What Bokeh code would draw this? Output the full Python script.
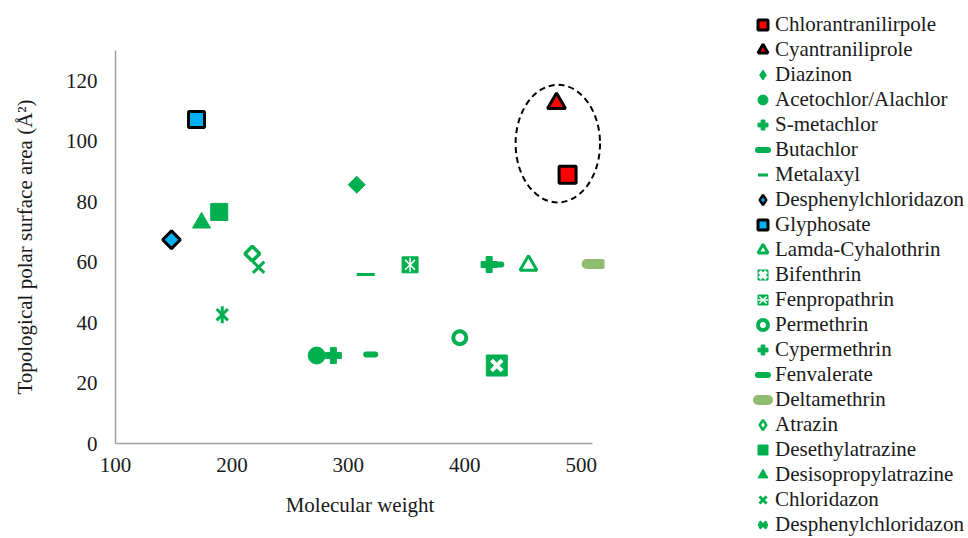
import math
from bokeh.plotting import figure
from bokeh.models import Legend, LegendItem, FixedTicker
from bokeh.embed import file_html
from bokeh.resources import INLINE

# ---------------- data ----------------
names = ["Chlorantranilirpole", "Cyantraniliprole", "Diazinon", "Acetochlor/Alachlor",
         "S-metachlor", "Butachlor", "Metalaxyl", "Desphenylchloridazon", "Glyphosate",
         "Lamda-Cyhalothrin", "Bifenthrin", "Fenpropathrin", "Permethrin", "Cypermethrin",
         "Fenvalerate", "Deltamethrin", "Atrazin", "Desethylatrazine", "Desisopropylatrazine",
         "Chloridazon", "Desphenylchloridazon"]
mw = [488.3, 478.8, 307.2, 272.8, 287.1, 319.2, 314.9, 148.1, 169.6,
      454.7, 427.5, 353.0, 395.7, 420.9, 427.5, 511.1, 217.5, 189.1, 173.9,
      222.9, 191.7]
tpsa = [88.9, 112.5, 85.6, 29.1, 29.1, 29.4, 55.9, 67.4, 107.2,
        58.9, 25.8, 59.1, 35.0, 59.2, 59.2, 59.4, 62.8, 76.6, 73.0,
        58.3, 42.6]
x_ticks = [100, 200, 300, 400, 500]
y_ticks = [0, 20, 40, 60, 80, 100, 120]
ellipse_x = [479.9]
ellipse_y = [99.2]
ellipse_w = [72.5]
ellipse_h = [38.9]

# ---------------- styles ----------------
GREEN = "#00b050"
BLUE = "#00b0f0"
RED = "#ff0000"
OLIVE = "#8fbc6f"
D = math.pi / 4
V = math.pi / 2
FONT = "Liberation Serif"
TEXT = "#1a1a1a"

def L(marker, size, fill, line, lw, angle=0.0, cap="butt"):
    return dict(marker=marker, size=size, fill_color=fill, line_color=line,
                line_width=lw, angle=angle, line_cap=cap)

styles = [
    [L("square", 17, RED, "black", 3)],
    [L("triangle", 18, RED, "black", 3)],
    [L("square", 12, GREEN, GREEN, 1, D)],
    [L("circle", 17, GREEN, GREEN, 1)],
    [L("plus", 16, GREEN, GREEN, 1)],
    [L("dash", 9, None, GREEN, 6, cap="round")],
    [L("dash", 18, None, GREEN, 3)],
    [L("square", 12.5, BLUE, "black", 3, D)],
    [L("square", 16, BLUE, "black", 3)],
    [L("triangle", 17, "white", GREEN, 3)],
    [L("square", 21, GREEN, GREEN, 1), L("x", 15, None, "white", 4)],
    [L("square", 16, GREEN, GREEN, 1), L("x", 14, None, "white", 1.5), L("dash", 14, None, "white", 1.5, V)],
    [L("circle", 13, "white", GREEN, 4)],
    [L("plus", 16, GREEN, GREEN, 1)],
    [L("dash", 9, None, GREEN, 6, cap="round")],
    [L("dash", 15, None, OLIVE, 10, cap="round")],
    [L("square", 10.5, "white", GREEN, 3.5, D)],
    [L("square", 17, GREEN, GREEN, 1)],
    [L("triangle", 18, GREEN, GREEN, 1)],
    [L("x", 16, None, GREEN, 3)],
    [L("x", 16, None, GREEN, 3), L("dash", 17, None, GREEN, 3, V)],
]
# legend glyphs ignore the marker angle, so the rotated squares get a diamond
# swatch that sits hidden underneath the plotted mark
diamond_swatch = {
    2: L("diamond", 6, GREEN, GREEN, 1),
    7: L("diamond", 6, BLUE, "black", 2.5),
    16: L("diamond", 6, "white", GREEN, 2.5),
}

# ---------------- main plot ----------------
p = figure(frame_width=489, frame_height=393, x_range=(100, 520), y_range=(0, 130),
           output_backend="svg", toolbar_location=None,
           min_border_left=115, min_border_top=50, min_border_right=364, min_border_bottom=95)
p.grid.visible = False
p.outline_line_color = None
p.background_fill_color = "white"
p.border_fill_color = "white"

p.ellipse(x=ellipse_x, y=ellipse_y, width=ellipse_w, height=ellipse_h,
          fill_color=None, line_color="black", line_width=2, line_dash="6 4")

items = []
for i, name in enumerate(names):
    rs = []
    sw = None
    if i in diamond_swatch:
        sw = p.scatter(x=[mw[i]], y=[tpsa[i]], **diamond_swatch[i])
    for st in styles[i]:
        rs.append(p.scatter(x=[mw[i]], y=[tpsa[i]], **st))
    if sw is not None:
        rs = [sw]
    items.append(LegendItem(label=name, renderers=rs))

for ax in (p.xaxis[0], p.yaxis[0]):
    ax.major_tick_line_color = None
    ax.minor_tick_line_color = None
    ax.axis_line_color = "#a0a0a0"
    ax.axis_line_width = 1.5
    ax.major_label_text_font = FONT
    ax.major_label_text_font_size = "21px"
    ax.major_label_text_color = TEXT
    ax.axis_label_text_font = FONT
    ax.axis_label_text_font_size = "21px"
    ax.axis_label_text_font_style = "normal"
    ax.axis_label_text_color = TEXT

p.xaxis.ticker = FixedTicker(ticks=x_ticks)
p.xaxis.bounds = (100, 510)
p.xaxis.axis_label = "Molecular weight"
p.xaxis.major_label_standoff = 8
p.xaxis.axis_label_standoff = 18

p.yaxis.ticker = FixedTicker(ticks=y_ticks)
p.yaxis.axis_label = "Topological polar surface area (Å²)"
p.yaxis.major_label_standoff = 12
p.yaxis.axis_label_standoff = 26

legend = Legend(items=items, location=(146, -94), orientation="vertical",
                label_text_font=FONT, label_text_font_size="21px", label_text_color=TEXT,
                glyph_width=25, glyph_height=25, label_height=25, spacing=0,
                label_standoff=0, padding=0, margin=0,
                border_line_color=None, background_fill_alpha=0)
p.add_layout(legend, "right")

open("out.html", "w").write(file_html(p, INLINE))
